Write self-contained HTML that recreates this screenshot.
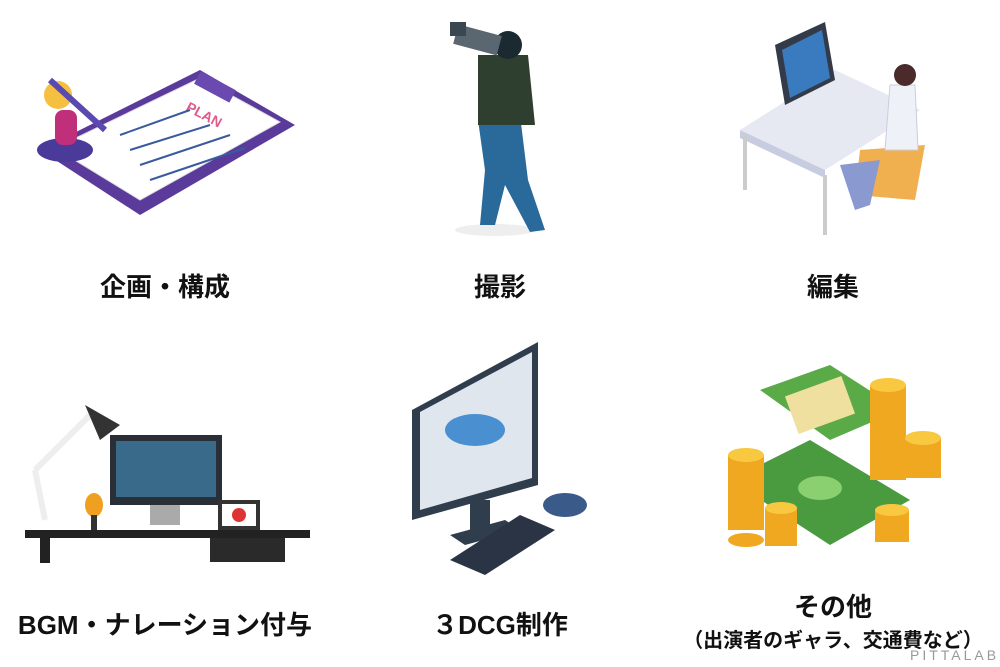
<!DOCTYPE html>
<html><head><meta charset="utf-8"><style>
body{margin:0;width:1000px;height:667px;background:#fff;position:relative;overflow:hidden;font-family:"Liberation Sans","Noto Sans CJK JP",sans-serif}
.l{position:absolute;font-weight:bold;font-size:26px;color:#111;text-align:center;width:330px;white-space:nowrap;line-height:30px}
svg{position:absolute;left:0;top:0}
</style></head><body>
<svg width="1000" height="667">
<polygon points="40,150 200,70 295,125 140,215" fill="#5a3a9a"/>
<polygon points="55,148 200,78 280,122 140,200" fill="#fff" stroke="#ddd"/>
<rect x="195" y="80" width="40" height="14" fill="#6a4ab0" transform="rotate(28 215 87)"/>
<text x="185" y="110" fill="#e05a8a" font-size="14" font-weight="bold" transform="rotate(28 185 110)" font-family="Liberation Sans">PLAN</text>
<g stroke="#3a5aa0" stroke-width="2"><line x1="120" y1="135" x2="190" y2="110"/><line x1="130" y1="150" x2="210" y2="125"/><line x1="140" y1="165" x2="230" y2="135"/><line x1="150" y1="180" x2="245" y2="148"/></g>
<ellipse cx="65" cy="150" rx="28" ry="12" fill="#4a3a9a"/>
<rect x="55" y="110" width="22" height="35" rx="8" fill="#c0307a"/>
<circle cx="58" cy="95" r="14" fill="#f5c040"/>
<line x1="50" y1="80" x2="105" y2="130" stroke="#5a4ab0" stroke-width="6"/>
<ellipse cx="495" cy="230" rx="40" ry="6" fill="#eee"/>
<path d="M478,120 L520,115 L528,180 L545,230 L530,232 L505,185 L495,225 L480,225 L485,170 Z" fill="#2a6a9a"/>
<path d="M478,55 L528,55 L535,125 L478,125 Z" fill="#2f3f2f"/>
<circle cx="508" cy="45" r="14" fill="#1a2a30"/>
<rect x="455" y="30" width="45" height="20" fill="#5a6670" transform="rotate(15 478 40)"/>
<rect x="450" y="22" width="16" height="14" fill="#3a4650"/>
<polygon points="740,130 835,70 920,110 825,170" fill="#e6e8f2"/>
<polygon points="740,130 825,170 825,178 740,138" fill="#c8cce0"/>
<line x1="745" y1="135" x2="745" y2="190" stroke="#ccc" stroke-width="4"/>
<line x1="825" y1="175" x2="825" y2="235" stroke="#ccc" stroke-width="4"/>
<line x1="915" y1="115" x2="915" y2="175" stroke="#ccc" stroke-width="4"/>
<polygon points="775,45 825,22 835,80 785,105" fill="#333a48"/>
<polygon points="782,50 822,30 830,78 790,98" fill="#3a7abf"/>
<path d="M860,150 L925,145 L915,200 L855,195 Z" fill="#f0b050"/>
<path d="M890,85 L915,85 L918,150 L885,150 Z" fill="#eef2f8" stroke="#ccd"/>
<path d="M840,165 L880,160 L870,205 L855,210 Z" fill="#8a9ad0"/>
<circle cx="905" cy="75" r="11" fill="#4a2a2a"/>
<rect x="25" y="530" width="285" height="8" fill="#222"/>
<rect x="40" y="538" width="10" height="25" fill="#222"/>
<rect x="210" y="538" width="75" height="24" fill="#2a2a2a"/>
<line x1="45" y1="520" x2="35" y2="470" stroke="#eee" stroke-width="6"/>
<line x1="35" y1="470" x2="90" y2="415" stroke="#eee" stroke-width="6"/>
<polygon points="85,405 120,425 100,440" fill="#333"/>
<rect x="110" y="435" width="112" height="70" fill="#2a2e36"/>
<rect x="116" y="441" width="100" height="56" fill="#3a6a8a"/>
<rect x="150" y="505" width="30" height="20" fill="#aaa"/>
<rect x="218" y="500" width="42" height="30" fill="#333"/>
<rect x="222" y="504" width="34" height="22" fill="#fff"/>
<circle cx="239" cy="515" r="7" fill="#d33"/>
<ellipse cx="94" cy="505" rx="9" ry="12" fill="#f0a020"/>
<rect x="91" y="515" width="6" height="15" fill="#333"/>
<polygon points="412,410 538,342 538,485 412,520" fill="#2f3d4d"/>
<polygon points="420,412 532,352 532,478 420,510" fill="#dfe6ee"/>
<ellipse cx="475" cy="430" rx="30" ry="16" fill="#4a90d0"/>
<rect x="470" y="500" width="20" height="35" fill="#2f3d4d"/>
<polygon points="450,535 505,520 520,530 465,545" fill="#2f3d4d"/>
<polygon points="450,560 520,515 555,530 485,575" fill="#2a3444"/>
<ellipse cx="565" cy="505" rx="22" ry="12" fill="#3a5a8a"/>
<polygon points="730,480 810,440 910,500 830,545" fill="#4a9a40"/>
<polygon points="760,390 830,365 900,410 830,440" fill="#5aaa48"/>
<rect x="790" y="385" width="60" height="40" fill="#f0e0a0" transform="rotate(-20 820 405)"/>
<ellipse cx="820" cy="488" rx="22" ry="12" fill="#8ad070"/>
<g fill="#f0a820">
<rect x="728" y="455" width="36" height="75"/><ellipse cx="746" cy="455" rx="18" ry="7" fill="#f8c840"/>
<rect x="870" y="385" width="36" height="95"/><ellipse cx="888" cy="385" rx="18" ry="7" fill="#f8c840"/>
<rect x="905" y="438" width="36" height="40"/><ellipse cx="923" cy="438" rx="18" ry="7" fill="#f8c840"/>
<rect x="765" y="508" width="32" height="38"/><ellipse cx="781" cy="508" rx="16" ry="6" fill="#f8c840"/>
<rect x="875" y="510" width="34" height="32"/><ellipse cx="892" cy="510" rx="17" ry="6" fill="#f8c840"/>
<ellipse cx="746" cy="540" rx="18" ry="7"/>
</g>
<text x="910" y="660" font-size="14" fill="#999" letter-spacing="3" font-family="Liberation Sans">PITTALAB</text>
</svg>
<div class="l" style="left:0;top:272px">企画・構成</div>
<div class="l" style="left:335px;top:272px">撮影</div>
<div class="l" style="left:668px;top:272px">編集</div>
<div class="l" style="left:0;top:610px">BGM・ナレーション付与</div>
<div class="l" style="left:335px;top:610px">３DCG制作</div>
<div class="l" style="left:668px;top:592px">その他</div>
<div class="l" style="left:668px;top:626px;font-size:20px">（出演者のギャラ、交通費など）</div>
</body></html>
